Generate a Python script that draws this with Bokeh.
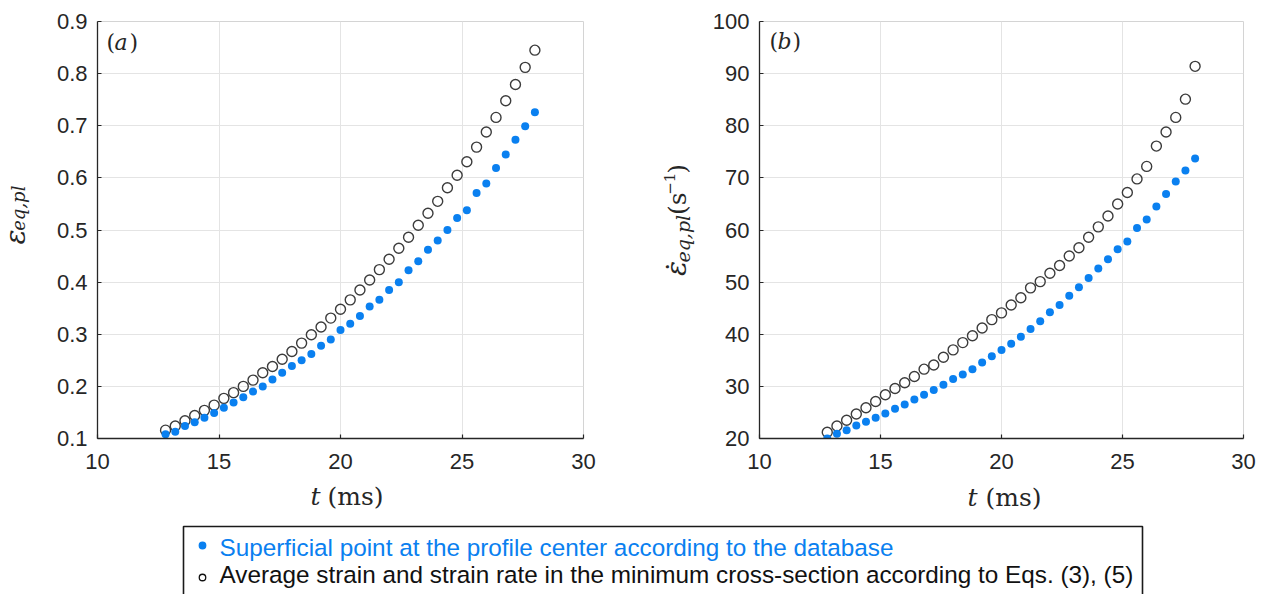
import math
from bokeh.plotting import figure
from bokeh.layouts import column, row
from bokeh.models import Range1d, FixedTicker, Label, BoxAnnotation, ColumnDataSource
from bokeh.embed import file_html
from bokeh.resources import INLINE

# ---------------- data ----------------
t_ms = [12.8, 13.2, 13.6, 14.0, 14.4, 14.8, 15.2, 15.6, 16.0, 16.4,
        16.8, 17.2, 17.6, 18.0, 18.4, 18.8, 19.2, 19.6, 20.0, 20.4,
        20.8, 21.2, 21.6, 22.0, 22.4, 22.8, 23.2, 23.6, 24.0, 24.4,
        24.8, 25.2, 25.6, 26.0, 26.4, 26.8, 27.2, 27.6, 28.0]

strain_db = [0.108, 0.113, 0.124, 0.131, 0.140, 0.149, 0.159, 0.169, 0.179, 0.190,
             0.200, 0.213, 0.226, 0.239, 0.250, 0.262, 0.278, 0.290, 0.308, 0.320,
             0.335, 0.353, 0.366, 0.385, 0.400, 0.423, 0.440, 0.462, 0.480, 0.500,
             0.523, 0.538, 0.571, 0.589, 0.619, 0.645, 0.673, 0.699, 0.726]

strain_avg = [0.116, 0.124, 0.134, 0.144, 0.154, 0.164, 0.177, 0.188, 0.200, 0.212,
              0.226, 0.238, 0.252, 0.267, 0.283, 0.299, 0.314, 0.331, 0.348, 0.366,
              0.385, 0.404, 0.424, 0.444, 0.465, 0.486, 0.509, 0.532, 0.555, 0.581,
              0.605, 0.631, 0.659, 0.688, 0.716, 0.748, 0.779, 0.812, 0.845]

rate_db = [20.0, 20.9, 21.6, 22.5, 23.2, 24.0, 24.8, 25.7, 26.5, 27.5,
           28.4, 29.3, 30.3, 31.4, 32.3, 33.3, 34.6, 35.8, 37.0, 38.2,
           39.5, 41.0, 42.5, 44.2, 45.6, 47.4, 49.0, 50.8, 52.6, 54.4,
           56.3, 57.8, 60.4, 62.0, 64.5, 66.9, 69.3, 71.4, 73.7]

rate_avg = [21.2, 22.4, 23.5, 24.7, 25.9, 27.1, 28.4, 29.6, 30.7, 31.9,
            33.3, 34.1, 35.6, 37.0, 38.4, 39.7, 41.2, 42.8, 44.1, 45.6,
            47.0, 48.9, 50.1, 51.7, 53.2, 55.0, 56.6, 58.6, 60.6, 62.7,
            65.0, 67.2, 69.8, 72.2, 76.1, 78.8, 81.6, 85.1, 91.4]

x_ticks = [10, 15, 20, 25, 30]
y_ticks_a = [0.1, 0.2, 0.3, 0.4, 0.5, 0.6, 0.7, 0.8, 0.9]
y_ticks_b = [20, 30, 40, 50, 60, 70, 80, 90, 100]

legend_labels = [
    "Superficial point at the profile center according to the database",
    "Average strain and strain rate in the minimum cross-section according to Eqs. (3), (5)",
]

# ---------------- styles ----------------
BLUE = "#0a80f0"
DARK = "#262626"
CIRC = "#3c3c3c"
GRID = "#e4e4e4"
SERIF = "DejaVu Serif"
SANS = "Liberation Sans"
R = math.pi / 2
TOP_H = 478          # height of the row holding the two panels


def make_panel(width, y_db, y_avg, y_ticks, borders):
    left, right, top, bottom = borders
    p = figure(width=width, height=TOP_H,
               x_range=Range1d(x_ticks[0], x_ticks[-1]),
               y_range=Range1d(y_ticks[0], y_ticks[-1]),
               output_backend="svg", toolbar_location=None,
               min_border_left=left, min_border_right=right,
               min_border_top=top, min_border_bottom=bottom)
    p.background_fill_color = "white"
    p.border_fill_color = "white"
    p.outline_line_color = "#d4d4d4"
    p.outline_line_width = 1

    p.xaxis.ticker = FixedTicker(ticks=x_ticks)
    p.yaxis.ticker = FixedTicker(ticks=y_ticks)
    for ax in (p.xaxis[0], p.yaxis[0]):
        ax.axis_line_color = DARK
        ax.axis_line_width = 1.3
        ax.major_tick_line_color = DARK
        ax.major_tick_line_width = 1.2
        ax.major_tick_in = 4
        ax.major_tick_out = 0
        ax.minor_tick_line_color = None
        ax.major_label_text_font = SANS
        ax.major_label_text_font_size = "22px"
        ax.major_label_text_color = DARK
    p.xaxis.major_label_standoff = 15
    p.yaxis.major_label_standoff = 10

    p.grid.grid_line_color = GRID
    p.grid.grid_line_width = 1

    src = ColumnDataSource(dict(t=t_ms, db=y_db, avg=y_avg))
    p.scatter(x="t", y="avg", source=src, marker="circle", size=10,
              fill_color=None, line_color=CIRC, line_width=1.4)
    p.scatter(x="t", y="db", source=src, marker="circle", size=8,
              fill_color=BLUE, line_color=None)
    return p


def strip(width, height):
    """A bare figure whose data coordinates are its own pixels (y downwards)."""
    s = figure(width=width, height=height, x_range=Range1d(0, width),
               y_range=Range1d(height, 0), output_backend="svg",
               toolbar_location=None, x_axis_location=None,
               y_axis_location=None, min_border=0)
    s.outline_line_color = None
    s.grid.visible = False
    s.background_fill_color = "white"
    s.border_fill_color = "white"
    return s


def lab(p, x, y, text, size, style="normal", font=SERIF, angle=0.0,
        color=DARK, units="data", align="left", baseline="alphabetic"):
    p.add_layout(Label(x=x, y=y, x_units=units, y_units=units, text=text,
                       angle=angle, text_font=font, text_font_style=style,
                       text_font_size=size, text_color=color,
                       text_align=align, text_baseline=baseline))


def vlab(p, x, y, text, size, style="normal"):
    # rotated (reading upwards) piece of a y-axis title, centred on (x, y)
    lab(p, x, y, text, size, style, angle=R, align="center", baseline="middle")


# ---- y-label strip (a): page x 0..40
sa = strip(40, TOP_H)
vlab(sa, 15, 247, "ε", "28px", "italic")
vlab(sa, 18, 214, "eq,pl", "18px", "italic")

# ---- panel (a): page x 40..633, frame x 97..583, y 20..438
pa = make_panel(593, strain_db, strain_avg, y_ticks_a, (57, 50, 20, TOP_H - 438))
lab(pa, 9, 396, "(", "22px", units="screen")
lab(pa, 17, 396, "a", "22px", "italic", units="screen")
lab(pa, 32, 396, ")", "22px", units="screen")

# ---- y-label strip (b): page x 633..705
sb = strip(72, TOP_H)
vlab(sb, 43, 283, "ε", "28px", "italic")
vlab(sb, 44, 281, "˙", "28px")
vlab(sb, 49, 249, "eq,pl", "19px", "italic")
vlab(sb, 44, 209, "(s", "25px")
vlab(sb, 36, 186, "−1", "15px")
vlab(sb, 44, 169, ")", "25px")

# ---- panel (b): page x 705..1266, frame x 759..1243, y 21..439
pb = make_panel(561, rate_db, rate_avg, y_ticks_b, (54, 23, 21, TOP_H - 439))
lab(pb, 10, 397, "(", "22px", units="screen")
lab(pb, 18, 397, "b", "22px", "italic", units="screen")
lab(pb, 33, 397, ")", "22px", units="screen")

# ---- bottom strip: x-axis titles and legend, page y 478..594
sl = strip(1266, 594 - TOP_H)
lab(sl, 310, 18, "t", "25px", "italic")
lab(sl, 327, 18, "(ms)", "25px")
lab(sl, 967, 19, "t", "25px", "italic")
lab(sl, 985, 19, "(ms)", "25px")

sl.add_layout(BoxAnnotation(left=183, right=1142, top=48, bottom=140,
                            fill_color=None, fill_alpha=0,
                            line_color="#1a1a1a", line_alpha=1.0, line_width=1.6))
key_src = ColumnDataSource(dict(x=[202, 202], y=[67, 99],
                                fc=[BLUE, "white"], lc=[BLUE, "#111111"]))
sl.scatter(x="x", y="y", source=key_src, marker="circle", size=6.5,
           fill_color="fc", line_color="lc", line_width=1.3)
lab(sl, 219, 69, legend_labels[0], "24.3px", font=SANS, color=BLUE)
lab(sl, 219, 96, legend_labels[1], "24.3px", font=SANS, color="#111111")

layout = column(row(sa, pa, sb, pb), sl)
open("out.html", "w").write(file_html(layout, INLINE))
